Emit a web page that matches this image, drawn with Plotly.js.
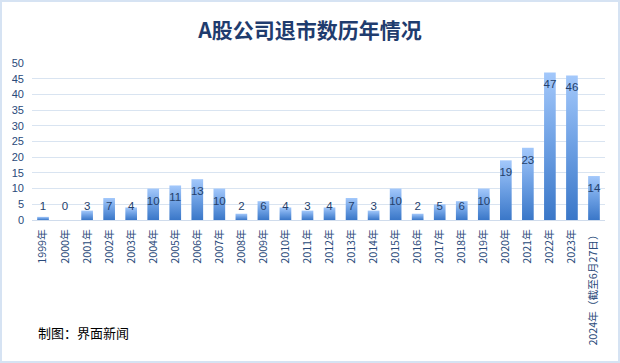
<!DOCTYPE html>
<html>
<head>
<meta charset="utf-8">
<script src="https://cdn.plot.ly/plotly-3.0.1.min.js"></script>
<style>
  html, body { margin: 0; padding: 0; background: #ffffff; }
  #wrap { position: relative; width: 620px; height: 363px; }
  #chart { width: 620px; height: 363px; }
  #frame { position: absolute; left: 0; top: 0; width: 620px; height: 363px; box-sizing: border-box; border: 2px solid #d6e3f3; pointer-events: none; }
</style>
</head>
<body>
<svg width="0" height="0" style="position:absolute">
  <defs>
    <linearGradient id="barGrad" x1="0" y1="0" x2="0" y2="1">
      <stop offset="0" stop-color="#a3c8fb"/>
      <stop offset="0.5" stop-color="#6c9fe3"/>
      <stop offset="1" stop-color="#3a77c8"/>
    </linearGradient>
  </defs>
</svg>
<div id="wrap">
  <div id="chart"></div>
  <div id="frame"></div>
</div>
<script>
const categories = ["1999年","2000年","2001年","2002年","2003年","2004年","2005年","2006年","2007年","2008年","2009年","2010年","2011年","2012年","2013年","2014年","2015年","2016年","2017年","2018年","2019年","2020年","2021年","2022年","2023年","2024年（截至6月27日）"];
const delistCounts = [1,0,3,7,4,10,11,13,10,2,6,4,3,4,7,3,10,2,5,6,10,19,23,47,46,14];
const yTickValues = [0,5,10,15,20,25,30,35,40,45,50];
const titleText = "A股公司退市数历年情况";
const sourceText = "制图：界面新闻";

const cjk = "Noto Sans CJK SC, Noto Sans, sans-serif";

const bars = {
  type: "bar",
  x: categories,
  y: delistCounts,
  marker: { color: "#6a9ee3", line: { width: 0 } },
  hoverinfo: "x+y",
  showlegend: false
};

const labels = {
  type: "scatter",
  mode: "text",
  x: categories,
  y: delistCounts.map(v => Math.max(v - 4.15, 4.15)),
  text: delistCounts.map(String),
  textposition: "middle center",
  textfont: { family: "Liberation Sans, Arial, sans-serif", size: 11.5, color: "#24406b" },
  hoverinfo: "skip",
  cliponaxis: false,
  showlegend: false
};

const layout = {
  width: 620,
  height: 363,
  margin: { l: 32, r: 15, t: 63, b: 143 },
  paper_bgcolor: "#ffffff",
  plot_bgcolor: "#ffffff",
  bargap: 0.47,
  showlegend: false,
  title: {
    text: "<b>" + titleText + "</b>",
    font: { family: cjk, size: 21, color: "#1f3c6e" },
    xref: "container",
    x: 0.5, xanchor: "center",
    yref: "container",
    y: 1 - 31 / 363, yanchor: "middle"
  },
  xaxis: {
    type: "category",
    range: [-0.5, categories.length - 0.5],
    autorange: false,
    tickangle: -90,
    tickfont: { family: cjk, size: 10.7, color: "#2a4a7a" },
    showgrid: false,
    showline: true,
    linecolor: "#d0dcec",
    linewidth: 1,
    ticks: "",
    ticklabelstandoff: 4,
    automargin: false,
    fixedrange: true
  },
  yaxis: {
    range: [0, 50],
    autorange: false,
    tickvals: yTickValues,
    ticktext: yTickValues.map(String),
    tickfont: { family: "Liberation Sans, Arial, sans-serif", size: 11, color: "#2a4a7a" },
    showgrid: true,
    gridcolor: "#d9e4f1",
    gridwidth: 1,
    zeroline: false,
    showline: false,
    ticks: "",
    ticklabelstandoff: 7,
    automargin: false,
    fixedrange: true
  },
  annotations: [{
    text: sourceText,
    xref: "paper", yref: "paper",
    x: (36 - 32) / 573, xanchor: "left",
    y: (220 - 332) / 157, yanchor: "middle",
    showarrow: false,
    font: { family: cjk, size: 13, color: "#000000" }
  }]
};

function paintBars() {
  document.querySelectorAll("#chart .trace.bars .point path").forEach(p => {
    p.style.fill = "url(#barGrad)";
  });
}

const gd = document.getElementById("chart");
Plotly.newPlot(gd, [bars, labels], layout, { displayModeBar: false, staticPlot: true }).then(() => {
  paintBars();
  gd.on("plotly_afterplot", paintBars);
});
</script>
</body>
</html>
